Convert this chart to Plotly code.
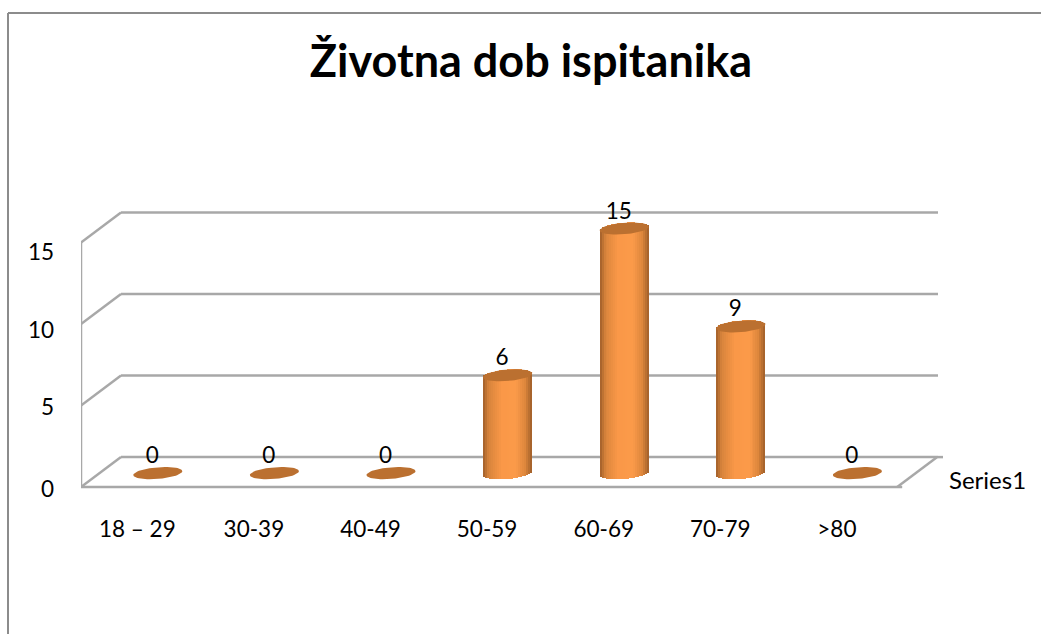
import numpy as np
import plotly.graph_objects as go

categories = ["18 – 29", "30-39", "40-49", "50-59", "60-69", "70-79", ">80"]
values = [0, 0, 0, 6, 15, 9, 0]
y_ticks = [0, 5, 10, 15]
y_tick_nudge = [0.12, 0.12, 0.37, 0.61]   # the reference's labels sit a little below their gridlines
series_name = "Series1"
title_text = "Životna dob ispitanika"

FONT = "Lato, Carlito, Calibri, sans-serif"
TICK_SIZE = 22.5
W, H = 1041, 634
L, R, T, B = 81, 960, 170, 487          # plot box in pixels (B = value 0)
PX_X = 116.6                              # pixels per category
PX_Y = 16.3                               # pixels per value unit
Y_PAD = 0.3                               # room below 0 so the nudged "0" label stays in range
BOTTOM = B + Y_PAD * PX_Y
x0 = -0.5
xr = (x0, x0 + (R - L) / PX_X)
yr = (-Y_PAD, (B - T) / PX_Y)

# depth of the fake 3D box, in axis units
wall_dx, wall_dy = 40 / PX_X, 30 / PX_Y
wall_end = x0 + (938 - L) / PX_X
bar_dx, bar_dy = 18.5 / PX_X, 14 / PX_Y
a, b_, tilt = 24.5 / PX_X, 5.8 / PX_Y, 1.9 / PX_Y

GRID = "#a8a8a8"
FRAME = "#8c8c8c"
CAP = "#bb7030"
stops = [(-1, (160, 95, 42)), (-0.78, (216, 132, 60)), (-0.25, (250, 152, 72)),
         (0.35, (252, 155, 74)), (0.72, (222, 135, 60)), (1, (160, 95, 42))]


def grad(u):
    us = [s[0] for s in stops]
    rgb = [np.interp(u, us, [s[1][k] for s in stops]) for k in range(3)]
    return "rgb(%d,%d,%d)" % tuple(int(c) for c in rgb)


fig = go.Figure()

# cylinder bodies: thin overlaid bars forming the shading
x_pos = np.arange(len(categories))
n = 25
us = (np.arange(n) + 0.5) / n * 2 - 1
tall = [i for i, v in enumerate(values) if v > 0]
for u in us:
    half = np.sqrt(1 - u ** 2) * b_
    bases = [bar_dy + tilt * u - half for _ in tall]
    tops = [values[i] + bar_dy + tilt * u + half for i in tall]
    fig.add_bar(
        x=[x_pos[i] + bar_dx + u * a for i in tall],
        y=[t - s for t, s in zip(tops, bases)],
        base=bases,
        width=2 * a / n * 1.05,
        marker=dict(color=grad(u), line=dict(width=0)),
        hoverinfo="skip",
        showlegend=False,
        cliponaxis=False,
    )

# caps
t = np.linspace(0, 2 * np.pi, 60)
for i, v in enumerate(values):
    fig.add_scatter(
        x=x_pos[i] + bar_dx + a * np.cos(t),
        y=v + bar_dy + tilt * np.cos(t) + b_ * np.sin(t),
        mode="lines",
        fill="toself",
        fillcolor=CAP,
        line=dict(width=0, color=CAP),
        hoverinfo="skip",
        showlegend=False,
        cliponaxis=False,
    )

# data labels
fig.add_scatter(
    x=x_pos + bar_dx - 5.5 / PX_X,
    y=np.array(values) + bar_dy + 15.5 / PX_Y,
    mode="text",
    text=[str(v) for v in values],
    textposition="middle center",
    textfont=dict(family=FONT, size=TICK_SIZE, color="#000000"),
    hoverinfo="skip",
    showlegend=False,
    cliponaxis=False,
)

# box lines
shapes = []


def seg(x1, y1, x2, y2, color=GRID, width=2.5):
    shapes.append(dict(type="line", xref="x", yref="y", x0=x1, y0=y1, x1=x2, y1=y2,
                       layer="below", line=dict(color=color, width=width)))


for v in y_ticks:
    seg(x0, v, x0 + wall_dx, v + wall_dy)
    seg(x0 + wall_dx, v + wall_dy, wall_end, v + wall_dy)
seg(x0, 0, x0, y_ticks[-1])
front_end = x0 + len(categories)
seg(x0, 0, front_end + 5 / PX_X, 0)
seg(front_end, 0, front_end + wall_dx, wall_dy)
seg(wall_end, wall_dy, wall_end + 5 / PX_X, wall_dy)


def px(p):
    return (p - L) / (R - L)


def py(p):
    return (BOTTOM - p) / (BOTTOM - T)


shapes.append(dict(type="line", xref="paper", yref="paper", x0=px(8), y0=py(13), x1=px(W), y1=py(13),
                   line=dict(color=FRAME, width=2), layer="below"))
shapes.append(dict(type="line", xref="paper", yref="paper", x0=px(8), y0=py(13), x1=px(8), y1=py(H),
                   line=dict(color=FRAME, width=2), layer="below"))

fig.update_layout(
    width=W,
    height=H,
    autosize=False,
    margin=dict(l=L, r=W - R, t=T, b=H - BOTTOM),
    paper_bgcolor="white",
    plot_bgcolor="rgba(0,0,0,0)",
    barmode="overlay",
    bargap=0,
    shapes=shapes,
    annotations=[dict(
        text=series_name,
        xref="paper",
        yref="paper",
        x=px(987),
        y=py(479),
        xanchor="center",
        yanchor="middle",
        showarrow=False,
        font=dict(family=FONT, size=24, color="#000000"),
    )],
    title=dict(
        text="<b>" + title_text + "</b>",
        xref="container",
        yref="container",
        x=531 / W,
        xanchor="center",
        y=1 - 61 / H,
        yanchor="middle",
        font=dict(family=FONT, size=45, color="#000000"),
    ),
    xaxis=dict(
        range=list(xr),
        tickmode="array",
        tickvals=list(x_pos - 2 / PX_X),
        ticktext=categories,
        showgrid=False,
        zeroline=False,
        showline=False,
        ticks="",
        ticklabelstandoff=21,
        tickfont=dict(family=FONT, size=TICK_SIZE, color="#000000"),
    ),
    yaxis=dict(
        range=list(yr),
        tickmode="array",
        tickvals=[v - d for v, d in zip(y_ticks, y_tick_nudge)],
        ticktext=[str(v) for v in y_ticks],
        showgrid=False,
        zeroline=False,
        showline=False,
        ticks="",
        ticklabelstandoff=26,
        tickfont=dict(family=FONT, size=TICK_SIZE, color="#000000"),
    ),
)

fig.write_html("out.html", config=dict(displayModeBar=False),
               post_script="document.body.style.margin='0';document.documentElement.style.overflow='hidden';")
